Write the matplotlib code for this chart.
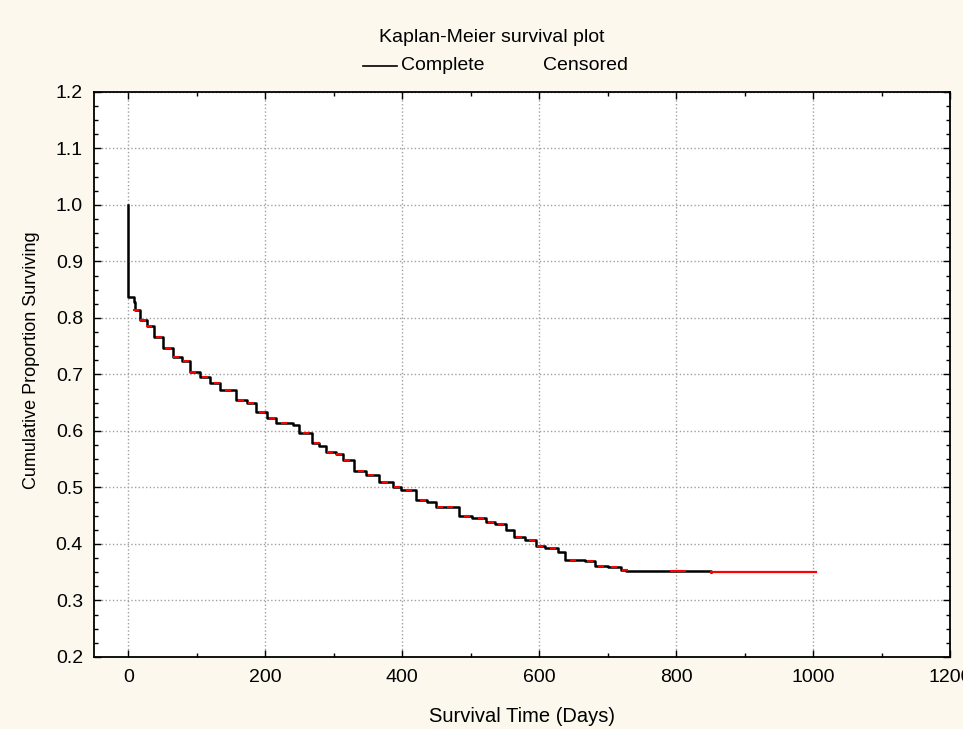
import numpy as np
import matplotlib.pyplot as plt
from matplotlib.ticker import MultipleLocator

plt.rcParams['font.family'] = ['Liberation Sans', 'DejaVu Sans']

# Kaplan-Meier estimate (days, proportion surviving)
times = [0, 0, 8, 10, 17, 27, 37, 51, 65, 78, 90, 105, 119, 134, 158, 173,
         187, 202, 216, 240, 250, 269, 279, 289, 303, 313, 330, 347, 366,
         386, 398, 420, 436, 449, 463, 483, 502, 522, 536, 551, 563, 580,
         595, 609, 628, 638, 667, 682, 701, 720, 727, 851]
surv = [1.0, 0.838, 0.829, 0.814, 0.796, 0.785, 0.766, 0.747, 0.731, 0.723,
        0.705, 0.696, 0.685, 0.673, 0.655, 0.649, 0.634, 0.623, 0.614, 0.611,
        0.596, 0.579, 0.574, 0.562, 0.559, 0.549, 0.530, 0.522, 0.509, 0.501,
        0.496, 0.478, 0.475, 0.466, 0.465, 0.450, 0.446, 0.439, 0.435, 0.425,
        0.413, 0.407, 0.396, 0.392, 0.386, 0.372, 0.369, 0.361, 0.359, 0.354,
        0.352, 0.350]
# censored observations
censored = [12, 22, 30, 45, 58, 70, 85, 95, 112, 130, 145, 165, 180, 195,
            210, 228, 260, 275, 295, 308, 320, 340, 355, 375, 392, 410, 430,
            455, 470, 495, 515, 530, 545, 570, 590, 602, 620, 650, 675, 690,
            710, 725, 795, 800, 805, 810]
max_followup = 1004

bg = '#fdf8ee'
fig = plt.figure(figsize=(9.63, 7.29), dpi=100, facecolor=bg)
ax = fig.add_axes([0.0976, 0.0988, 0.8889, 0.775])
ax.set_facecolor('white')

t = np.array(times)
s = np.array(surv)
ax.step(t, s, where='post', color='black', lw=1.8, zorder=3)

# censored marks sit on the curve
idx = np.searchsorted(t, censored, side='right') - 1
ax.plot(censored, s[idx], ls='none', marker='_', ms=5, mew=1.5, color='red', zorder=4)
ax.plot([t[-1], max_followup], [s[-1], s[-1]], color='red', lw=1.6, zorder=3)

ax.set_xlim(-50, 1200)
ax.set_ylim(0.2, 1.2)
ax.xaxis.set_major_locator(MultipleLocator(200))
ax.xaxis.set_minor_locator(MultipleLocator(100))
ax.yaxis.set_major_locator(MultipleLocator(0.1))
ax.yaxis.set_minor_locator(MultipleLocator(0.025))
ax.yaxis.set_major_formatter(plt.FuncFormatter(lambda v, p: f'{v:.1f}'))
ax.tick_params(which='both', direction='in', top=True, right=True,
               labelsize=14, colors='black')
ax.tick_params(which='major', length=5, width=1)
ax.tick_params(which='minor', length=3, width=1)
ax.tick_params(axis='x', pad=9)
ax.tick_params(axis='y', pad=8)
for sp in ax.spines.values():
    sp.set_linewidth(1.3)
ax.grid(True, which='major', color='#a0a0a0', ls=':', lw=1)

fig.text(522 / 963, 1 - 716 / 729, 'Survival Time (Days)', ha='center', va='center', fontsize=14.5)
fig.text(32 / 963, 1 - 360 / 729, 'Cumulative Proportion Surviving', ha='center', va='center',
         rotation=90, fontsize=13)

fig.text(492 / 963, 1 - 37 / 729, 'Kaplan-Meier survival plot', ha='center', va='center', fontsize=14)
fig.add_artist(plt.Line2D([363 / 963, 397 / 963], [1 - 66 / 729, 1 - 66 / 729], color='black', lw=1.2))
fig.text(401 / 963, 1 - 66 / 729, 'Complete', ha='left', va='center', fontsize=14)
fig.text(543 / 963, 1 - 66 / 729, 'Censored', ha='left', va='center', fontsize=14)

fig.savefig('out.png', dpi=100, facecolor=bg)
